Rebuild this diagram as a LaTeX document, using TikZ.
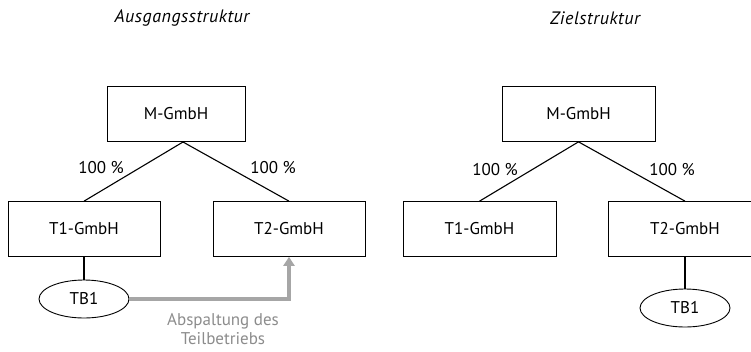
\documentclass[tikz,border=0pt]{standalone}
\usepackage{fontspec}
\setmainfont{PT Sans}
\usetikzlibrary{arrows.meta,shapes.geometric}

\begin{document}
\begin{tikzpicture}[x=1pt,y=-1pt]
	\tikzstyle{firma}=[draw, line width=0.7pt, minimum height=55pt, inner sep=0pt, font=\fontsize{17}{20}\selectfont]
	\tikzstyle{betrieb}=[ellipse, draw, line width=0.9pt, minimum width=90pt, minimum height=38pt, inner sep=0pt, font=\fontsize{17}{20}\selectfont]
	\tikzstyle{quote}=[font=\fontsize{17}{20}\selectfont]
	\tikzstyle{titel}=[font=\fontsize{18}{20}\selectfont\itshape\addfontfeatures{LetterSpace=3}]
	\tikzstyle{kante}=[line width=1.1pt]
	\tikzstyle{abspaltung}=[line width=3.5pt, color=black!35, -{Triangle[length=9pt,width=11pt]}]

	\useasboundingbox (0,0) rectangle (751,351);

	% Ausgangsstruktur
	\node[titel] (titelA) at (182,18) {Ausgangsstruktur};
	\node[firma, minimum width=138pt] (mA) at (176,114) {M-GmbH};
	\node[firma, minimum width=152pt] (taA) at (84,229) {T1-GmbH};
	\node[firma, minimum width=152pt] (tbA) at (289,229) {T2-GmbH};
	\node[betrieb] (tbeA) at (84,299) {TB1};

	\draw[kante] (183,142) -- (taA.north);
	\draw[kante] (183,142) -- (tbA.north);
	\draw[kante] (taA.south) -- (tbeA.north);

	\node[quote] (qaA) at (101,168) {100 \%};
	\node[quote] (qbA) at (273,168) {100 \%};

	\draw[abspaltung] (tbeA.east) -| (tbA.south);
	\node[align=center, text=black!45, font=\fontsize{17}{19}\selectfont] (txtA) at (223,329) {Abspaltung des\\Teilbetriebs};

	% Zielstruktur
	\node[titel] (titelB) at (595,18) {Zielstruktur};
	\node[firma, minimum width=153pt] (mB) at (578.5,114) {M-GmbH};
	\node[firma, minimum width=153pt] (taB) at (479.5,229) {T1-GmbH};
	\node[firma, minimum width=154pt] (tbB) at (685,229) {T2-GmbH};
	\node[betrieb] (tbeB) at (685,308) {TB1};

	\draw[kante] (mB.south) -- (taB.north);
	\draw[kante] (mB.south) -- (tbB.north);
	\draw[kante] (tbB.south) -- (tbeB.north);

	\node[quote] (qaB) at (495,170) {100 \%};
	\node[quote] (qbB) at (672,170) {100 \%};
\end{tikzpicture}
\end{document}
